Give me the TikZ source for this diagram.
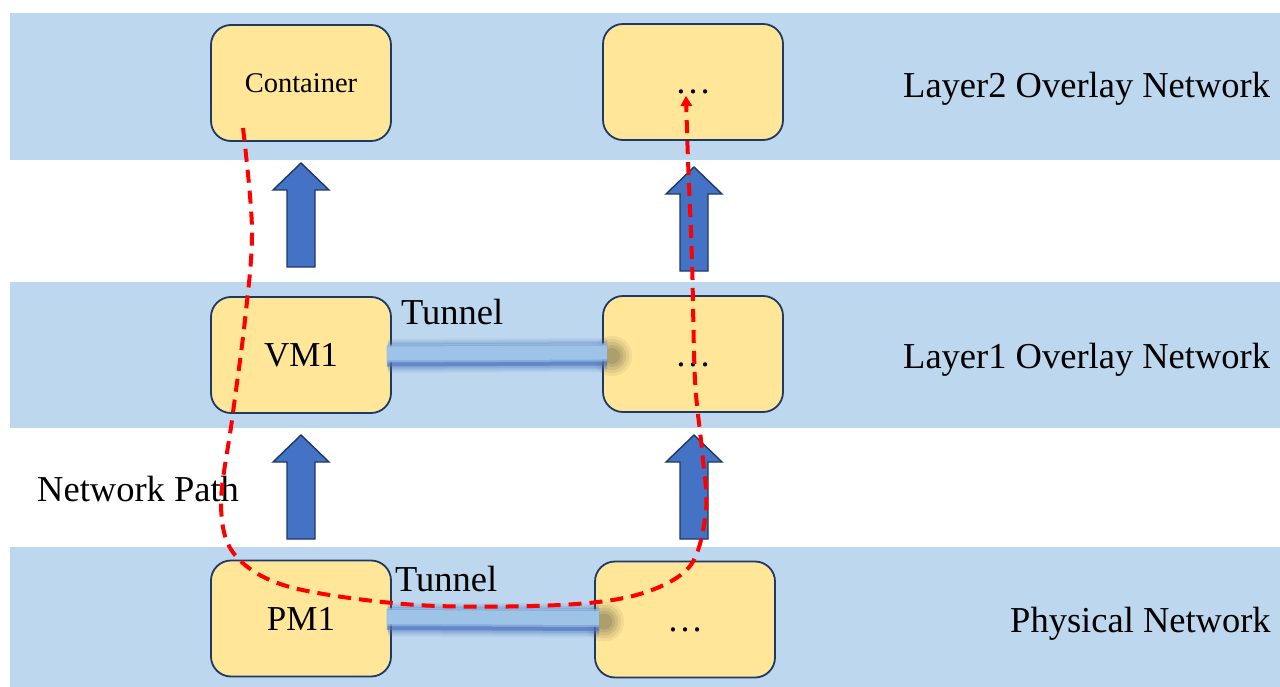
\documentclass[tikz,border=0pt]{standalone}
\usepackage{fontspec}
\setmainfont{Liberation Serif}
\usetikzlibrary{arrows.meta,calc}

\definecolor{bandblue}{HTML}{BDD7EE}
\definecolor{boxfill}{HTML}{FFE699}
\definecolor{navy}{HTML}{1F3864}
\definecolor{arrowblue}{HTML}{4472C4}
\definecolor{barlight}{HTML}{9DC3E6}
\definecolor{bardark}{HTML}{4A72C0}
\definecolor{barshade}{HTML}{4A4A36}

\tikzset{
  layerband/.style={fill=bandblue, draw=none},
  hostbox/.style={draw=navy, line width=1.8pt, fill=boxfill, rounded corners=20pt,
    minimum width=180pt, minimum height=116pt, inner sep=0pt,
    text height=23pt, text depth=0pt, font=\fontsize{35}{40}\selectfont},
  dotsbox/.style={hostbox, text height=24pt, font=\fontsize{36}{40}\selectfont},
  layertext/.style={anchor=base west, inner sep=0pt, font=\fontsize{36.5}{40}\selectfont},
  netpath/.style={red, line width=4pt, dash pattern=on 13pt off 8pt},
  uparrow/.pic={
    \filldraw[fill=arrowblue, draw=navy, line width=1.4pt]
      (0,0) -- (28,27) -- (14,27) -- (14,104) -- (-14,104) -- (-14,27) -- (-28,27) -- cycle;
  }
}

% soft-edged tunnel bar between two hosts
\newcommand\tunnelbar[2]{%
  \foreach \r/\o in {20/.07,17/.09,14/.11,11/.13,8/.15}{%
    \fill[barshade, opacity=\o] ($(#2.west)+(10,2)$) ellipse [x radius=\r pt, y radius=\r pt];}
  \foreach \w/\o in {34/.08,31/.1,28/.14,25/.2}{%
    \draw[bardark, opacity=\o, line width=\w pt, shorten <=-4pt, shorten >=-5pt,
      transform canvas={yshift=-1pt}] (#1.east) -- (#2.west);}
  \draw[bardark, opacity=.6, line width=21pt, shorten <=-5pt, shorten >=-5pt,
    transform canvas={yshift=-1pt}] (#1.east) -- (#2.west);
  \draw[barlight, opacity=.6, line width=18pt, shorten <=-5pt, shorten >=-5pt,
    transform canvas={yshift=1.5pt}] (#1.east) -- (#2.west);
  \draw[barlight, line width=14pt, shorten <=-5pt, shorten >=-5pt,
    transform canvas={yshift=1.5pt}] (#1.east) -- (#2.west);
}

\begin{document}
\begin{tikzpicture}[x=1pt, y=-1pt]
  \useasboundingbox (0,0) rectangle (1280,687);

  % layer bands
  \fill[layerband] (10,13) rectangle (1280,160);
  \fill[layerband] (10,282) rectangle (1280,428);
  \fill[layerband] (10,547) rectangle (1280,687);

  % hosts
  \node[hostbox, text height=19pt, font=\fontsize{28.5}{32}\selectfont] (cont) at (301,83) {Container};
  \node[dotsbox] (top2) at (693,82) {…};
  \node[hostbox] (vm1) at (301,355) {VM1};
  \node[dotsbox] (mid2) at (693,354) {…};
  \node[hostbox] (pm1) at (301,618.5) {PM1};
  \node[dotsbox] (bot2) at (685,619.5) {…};

  % tunnels
  \tunnelbar{vm1}{mid2}
  \tunnelbar{pm1}{bot2}

  % block arrows between layers
  \pic at (301,163) {uparrow};
  \pic at (694,167) {uparrow};
  \pic at (301,435) {uparrow};
  \pic at (694,435) {uparrow};

  % labels
  \node[layertext] (l2) at (903,98) {Layer2 Overlay Network};
  \node[layertext] (l1) at (903,368) {Layer1 Overlay Network};
  \node[layertext] (l0) at (1010,632) {Physical Network};
  \node[layertext] (np) at (37,501) {Network Path};
  \node[layertext] (t1) at (401,324) {Tunnel};
  \node[layertext] (t0) at (395,591) {Tunnel};

  % network path
  \coordinate (pstart) at (243,128);
  \coordinate (pend) at (686,96);
  \draw[netpath, -{Triangle[width=12pt,length=10pt,line width=0pt]}]
    plot[smooth, tension=0.55] coordinates {(pstart) (252,230) (245,320) (232,420) (221,505)
      (235,555) (290,587) (417,605) (560,605) (640,594) (690,566) (706,510) (702,450)
      (695,380) (692,260) (688,160) (pend)};
\end{tikzpicture}
\end{document}
